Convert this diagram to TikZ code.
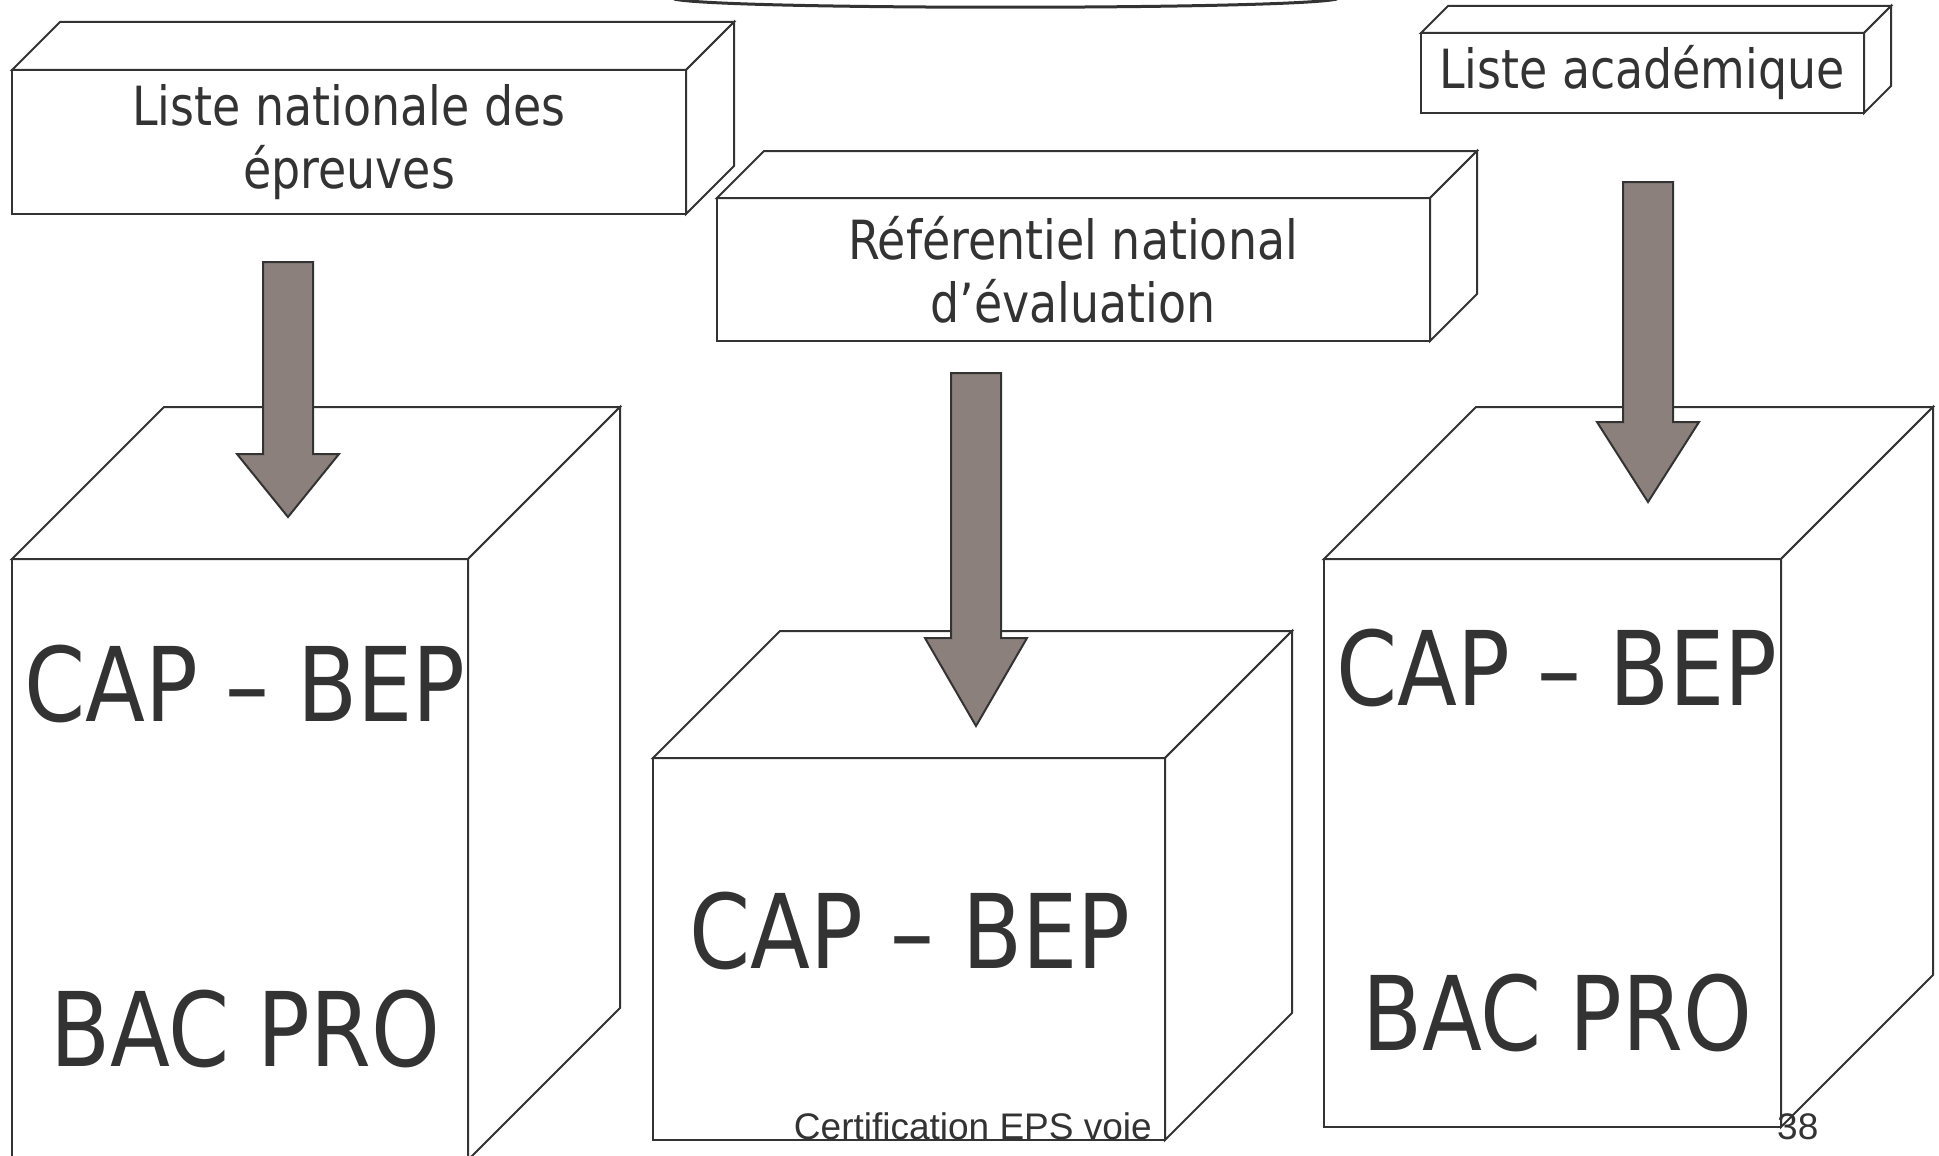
\documentclass[tikz,border=0pt]{standalone}
\usepackage{fontspec}
\newfontfamily\boxfont[FakeStretch=0.85]{DejaVu Sans}
\newfontfamily\footfont{Liberation Sans}
\definecolor{ink}{HTML}{333333}
\definecolor{arrowfill}{HTML}{8C807C}
\tikzset{
  boxline/.style={draw=ink, line width=2pt, fill=white, line join=miter},
  arrowst/.style={draw=ink, line width=2pt, fill=arrowfill, line join=miter},
  smalltxt/.style={text=ink, font=\boxfont\fontsize{54}{63}\selectfont, align=center, inner sep=0pt},
  bigtxt/.style={text=ink, font=\boxfont\fontsize{103}{120}\selectfont, inner sep=0pt, anchor=base},
  foottxt/.style={text=ink, font=\footfont\fontsize{37}{40}\selectfont, inner sep=0pt, anchor=base}
}
\newcommand\cuboid[5]{% x1,y1,x2,y2,depth
  \filldraw[boxline] (#1,#2) rectangle (#3,#4);
  \filldraw[boxline] (#1,#2) -- (#1+#5,#2-#5) -- (#3+#5,#2-#5) -- (#3,#2) -- cycle;
  \filldraw[boxline] (#3,#2) -- (#3+#5,#2-#5) -- (#3+#5,#4-#5) -- (#3,#4) -- cycle;
}
\newcommand\blockarrow[6]{% cx, top, headY, tipY, shaft half, head half
  \filldraw[arrowst] (#1-#5,#2) -- (#1+#5,#2) -- (#1+#5,#3) -- (#1+#6,#3) -- (#1,#4) -- (#1-#6,#3) -- (#1-#5,#3) -- cycle;
}
\begin{document}
\begin{tikzpicture}[x=1pt,y=-1pt]
\useasboundingbox (0,0) rectangle (1939,1156);
\clip (0,0) rectangle (1939,1156);
% top curve
\draw[ink, line width=3pt] (674,-1) .. controls (720,10) and (1290,10) .. (1337,-1);
% label boxes
\cuboid{12}{70}{686}{214}{48}
\node[smalltxt] (tA) at (349,142) {Liste nationale des\\épreuves};
\cuboid{717}{198}{1430}{341}{47}
\node[smalltxt] (tB) at (1073,270) {Référentiel national\\d’évaluation};
\cuboid{1421}{33}{1864}{113}{27}
\node[smalltxt] (tC) at (1642,73) {Liste académique};
% big boxes
\cuboid{12}{559}{468}{1160}{152}
\node[bigtxt] (l1) at (245,721) {CAP – BEP};
\node[bigtxt] (l2) at (245,1066) {BAC PRO};
\cuboid{653}{758}{1165}{1140}{127}
\node[bigtxt] (m1) at (910,968) {CAP – BEP};
\cuboid{1324}{559}{1781}{1127}{152}
\node[bigtxt] (r1) at (1557,705) {CAP – BEP};
\node[bigtxt] (r2) at (1557,1050) {BAC PRO};
% arrows
\blockarrow{288}{262}{454}{517}{25}{51}
\blockarrow{976}{373}{638}{726}{25}{51}
\blockarrow{1648}{182}{422}{502}{25}{51}
% footer
\node[foottxt, anchor=base east] (foot) at (1152,1139) {Certification EPS voie};
\node[foottxt, anchor=base west] (pg) at (1777,1139) {38};
\end{tikzpicture}
\end{document}
